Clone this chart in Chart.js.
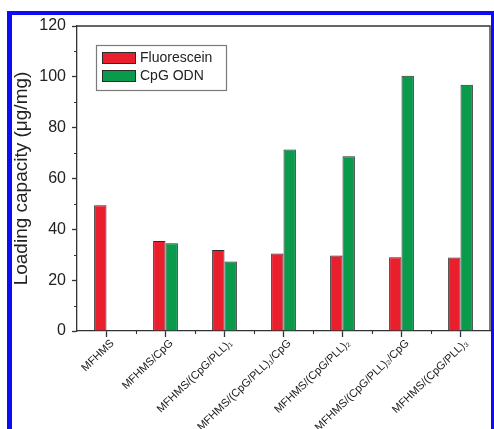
<!DOCTYPE html>
<html>
<head>
<meta charset="utf-8">
<script src="https://cdn.jsdelivr.net/npm/chart.js@4.4.1/dist/chart.umd.min.js"></script>
<style>
  html, body { margin: 0; padding: 0; background: #fff; }
  #wrap { position: relative; width: 494px; height: 429px; overflow: hidden; }
  #wrap canvas { position: absolute; left: 0; top: 0; }
  #frame {
    position: absolute; left: 7px; top: 11px; width: 487px; height: 440px;
    box-sizing: border-box; border: 5px solid rgb(12, 12, 245);
    border-top-width: 4px; border-right-width: 3px; border-bottom: none;
    pointer-events: none;
  }
</style>
</head>
<body>
<div id="wrap">
  <canvas id="c" width="494" height="429"></canvas>
  <div id="frame"></div>
</div>
<script>
// Sample series (loading capacity, µg/mg)
const categories = [
  'MFHMS',
  'MFHMS/CpG',
  'MFHMS/(CpG/PLL)\u2081',
  'MFHMS/(CpG/PLL)\u2081/CpG',
  'MFHMS/(CpG/PLL)\u2082',
  'MFHMS/(CpG/PLL)\u2082/CpG',
  'MFHMS/(CpG/PLL)\u2083'
];
const fluorescein = [49.5, 35.4, 31.9, 30.5, 29.7, 29.0, 28.9];
const cpgOdn = [null, 34.5, 27.3, 71.4, 68.8, 100.4, 96.9];
const seriesNames = ['Fluorescein', 'CpG ODN'];
const yMin = 0, yMax = 120, yMajorStep = 20, yMinorStep = 10;
const yTitle = 'Loading capacity (\u03bcg/mg)';

const RED = '#ea1f2d';
const GREEN = '#099a4b';
const EDGE = '#2b2b2b';
const AXIS = '#333333';
const FONT = "'Liberation Sans', Arial, sans-serif";

// Draws the closed frame, minor ticks and the boxed legend inside the plot
const decorations = {
  id: 'decorations',
  afterDraw(chart) {
    const ctx = chart.ctx;
    const a = chart.chartArea;
    const x = chart.scales.x, y = chart.scales.y;
    ctx.save();
    ctx.strokeStyle = AXIS;
    ctx.lineWidth = 1.3;
    // top and right frame lines
    ctx.beginPath();
    ctx.moveTo(a.left, a.top); ctx.lineTo(a.right, a.top); ctx.lineTo(a.right, a.bottom);
    ctx.stroke();
    // minor y ticks
    ctx.lineWidth = 1.1;
    ctx.beginPath();
    for (let v = yMin + yMinorStep; v < yMax; v += yMajorStep) {
      const py = Math.round(y.getPixelForValue(v)) + 0.5;
      ctx.moveTo(a.left - 3, py); ctx.lineTo(a.left, py);
    }
    // minor x ticks on category boundaries
    for (let i = 1; i < categories.length; i++) {
      const px = Math.round((x.getPixelForValue(i - 1) + x.getPixelForValue(i)) / 2) + 0.5;
      ctx.moveTo(px, a.bottom); ctx.lineTo(px, a.bottom + 3);
    }
    ctx.stroke();

    // legend box
    const bx = a.left + 19, by = a.top + 19, bw = 130, bh = 45;
    ctx.fillStyle = '#fff';
    ctx.fillRect(bx, by, bw, bh);
    ctx.strokeStyle = '#7a7a7a';
    ctx.lineWidth = 1.2;
    ctx.strokeRect(bx + 0.5, by + 0.5, bw, bh);
    const colors = [RED, GREEN];
    ctx.font = '14px ' + FONT;
    ctx.textBaseline = 'middle';
    seriesNames.forEach((name, i) => {
      const sy = by + 7 + i * 18;
      ctx.fillStyle = colors[i];
      ctx.fillRect(bx + 6, sy, 34, 12);
      ctx.strokeStyle = EDGE;
      ctx.lineWidth = 1;
      ctx.strokeRect(bx + 6.5, sy + 0.5, 33, 11);
      ctx.fillStyle = '#222';
      ctx.fillText(name, bx + 44, sy + 6.5);
    });
    ctx.restore();
  }
};

new Chart(document.getElementById('c'), {
  type: 'bar',
  data: {
    labels: categories,
    datasets: [
      { label: seriesNames[0], data: fluorescein, backgroundColor: RED, borderColor: EDGE, borderWidth: 1,
        categoryPercentage: 0.42, barPercentage: 1.0 },
      { label: seriesNames[1], data: cpgOdn, backgroundColor: GREEN, borderColor: EDGE, borderWidth: 1,
        categoryPercentage: 0.42, barPercentage: 1.0 }
    ]
  },
  options: {
    responsive: false,
    animation: false,
    devicePixelRatio: 1,
    layout: { padding: { top: 26, right: 4, left: 8, bottom: 0 } },
    plugins: { legend: { display: false }, tooltip: { enabled: false } },
    scales: {
      x: {
        offset: true,
        grid: { display: true, offset: false, drawOnChartArea: false, drawTicks: true, tickLength: 6, tickColor: AXIS, tickWidth: 1.3 },
        border: { display: true, color: AXIS, width: 1.3 },
        ticks: {
          autoSkip: false, maxRotation: 44, minRotation: 44, padding: 0, labelOffset: 6,
          color: '#1a1a1a', font: { family: FONT, size: 11 }
        },
        afterFit(scale) { scale.height = 98; }
      },
      y: {
        min: yMin, max: yMax,
        grid: { display: true, drawOnChartArea: false, drawTicks: true, tickLength: 5, tickColor: AXIS, tickWidth: 1.3 },
        border: { display: true, color: AXIS, width: 1.3 },
        ticks: { stepSize: yMajorStep, padding: 6, color: '#222', font: { family: FONT, size: 16 } },
        title: { display: true, text: yTitle, color: '#222', font: { family: FONT, size: 19 }, padding: { top: 2, bottom: 2 } },
        afterFit(scale) { scale.width = 69; }
      }
    }
  },
  plugins: [decorations]
});
</script>
</body>
</html>
